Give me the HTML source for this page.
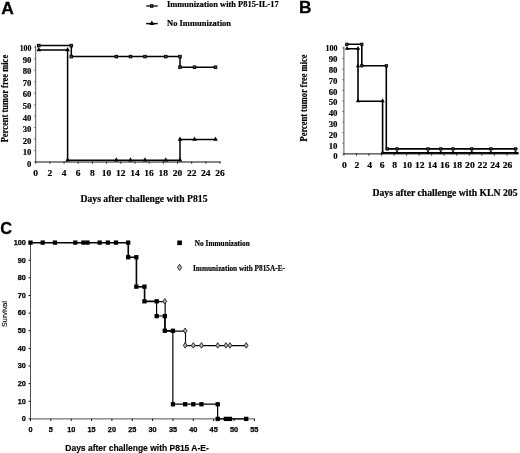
<!DOCTYPE html>
<html><head><meta charset="utf-8"><title>Figure</title>
<style>html,body{margin:0;padding:0;background:#fff;}svg{display:block;will-change:transform;filter:blur(0.4px);font-family:"Liberation Serif",serif;}</style>
</head><body>
<svg width="520" height="453" viewBox="0 0 520 453">
<rect width="520" height="453" fill="#fff"/>
<text x="1.15" y="13.90" font-size="17.4" font-family="Liberation Sans, sans-serif" font-weight="bold" text-anchor="start" stroke="#000" stroke-width="0.3">A</text>
<text x="298.90" y="12.60" font-size="17.3" font-family="Liberation Sans, sans-serif" font-weight="bold" text-anchor="start" stroke="#000" stroke-width="0.3">B</text>
<text x="0.30" y="234.40" font-size="17.3" font-family="Liberation Sans, sans-serif" font-weight="bold" text-anchor="start" textLength="11.8" lengthAdjust="spacingAndGlyphs" stroke="#000" stroke-width="0.3">C</text>
<line x1="35.70" y1="45.40" x2="35.70" y2="162.00" stroke="#444" stroke-width="0.9"/>
<line x1="35.70" y1="162.00" x2="220.34" y2="162.00" stroke="#111" stroke-width="1.0"/>
<line x1="34.10" y1="162.00" x2="35.70" y2="162.00" stroke="#444" stroke-width="0.7"/>
<text x="31.40" y="167.00" font-size="8.6" font-family="Liberation Serif, serif" font-weight="bold" stroke="#000" stroke-width="0.18" text-anchor="end" textLength="4.3" lengthAdjust="spacingAndGlyphs" >0</text>
<line x1="34.10" y1="150.54" x2="35.70" y2="150.54" stroke="#444" stroke-width="0.7"/>
<text x="31.40" y="155.40" font-size="8.6" font-family="Liberation Serif, serif" font-weight="bold" stroke="#000" stroke-width="0.18" text-anchor="end" textLength="8.7" lengthAdjust="spacingAndGlyphs" >10</text>
<line x1="34.10" y1="139.08" x2="35.70" y2="139.08" stroke="#444" stroke-width="0.7"/>
<text x="31.40" y="143.80" font-size="8.6" font-family="Liberation Serif, serif" font-weight="bold" stroke="#000" stroke-width="0.18" text-anchor="end" textLength="8.7" lengthAdjust="spacingAndGlyphs" >20</text>
<line x1="34.10" y1="127.62" x2="35.70" y2="127.62" stroke="#444" stroke-width="0.7"/>
<text x="31.40" y="132.20" font-size="8.6" font-family="Liberation Serif, serif" font-weight="bold" stroke="#000" stroke-width="0.18" text-anchor="end" textLength="8.7" lengthAdjust="spacingAndGlyphs" >30</text>
<line x1="34.10" y1="116.16" x2="35.70" y2="116.16" stroke="#444" stroke-width="0.7"/>
<text x="31.40" y="120.60" font-size="8.6" font-family="Liberation Serif, serif" font-weight="bold" stroke="#000" stroke-width="0.18" text-anchor="end" textLength="8.7" lengthAdjust="spacingAndGlyphs" >40</text>
<line x1="34.10" y1="104.70" x2="35.70" y2="104.70" stroke="#444" stroke-width="0.7"/>
<text x="31.40" y="109.00" font-size="8.6" font-family="Liberation Serif, serif" font-weight="bold" stroke="#000" stroke-width="0.18" text-anchor="end" textLength="8.7" lengthAdjust="spacingAndGlyphs" >50</text>
<line x1="34.10" y1="93.24" x2="35.70" y2="93.24" stroke="#444" stroke-width="0.7"/>
<text x="31.40" y="97.40" font-size="8.6" font-family="Liberation Serif, serif" font-weight="bold" stroke="#000" stroke-width="0.18" text-anchor="end" textLength="8.7" lengthAdjust="spacingAndGlyphs" >60</text>
<line x1="34.10" y1="81.78" x2="35.70" y2="81.78" stroke="#444" stroke-width="0.7"/>
<text x="31.40" y="85.80" font-size="8.6" font-family="Liberation Serif, serif" font-weight="bold" stroke="#000" stroke-width="0.18" text-anchor="end" textLength="8.7" lengthAdjust="spacingAndGlyphs" >70</text>
<line x1="34.10" y1="70.32" x2="35.70" y2="70.32" stroke="#444" stroke-width="0.7"/>
<text x="31.40" y="74.20" font-size="8.6" font-family="Liberation Serif, serif" font-weight="bold" stroke="#000" stroke-width="0.18" text-anchor="end" textLength="8.7" lengthAdjust="spacingAndGlyphs" >80</text>
<line x1="34.10" y1="58.86" x2="35.70" y2="58.86" stroke="#444" stroke-width="0.7"/>
<text x="31.40" y="62.60" font-size="8.6" font-family="Liberation Serif, serif" font-weight="bold" stroke="#000" stroke-width="0.18" text-anchor="end" textLength="8.7" lengthAdjust="spacingAndGlyphs" >90</text>
<line x1="34.10" y1="47.40" x2="35.70" y2="47.40" stroke="#444" stroke-width="0.7"/>
<text x="31.40" y="51.00" font-size="8.6" font-family="Liberation Serif, serif" font-weight="bold" stroke="#000" stroke-width="0.18" text-anchor="end" textLength="11.7" lengthAdjust="spacingAndGlyphs" >100</text>
<line x1="35.70" y1="161.40" x2="35.70" y2="163.80" stroke="#222" stroke-width="0.9"/>
<text x="35.70" y="176.00" font-size="8.8" font-family="Liberation Serif, serif" font-weight="bold" stroke="#000" stroke-width="0.18" text-anchor="middle" textLength="4.75" lengthAdjust="spacingAndGlyphs" >0</text>
<line x1="49.88" y1="161.40" x2="49.88" y2="163.80" stroke="#222" stroke-width="0.9"/>
<text x="49.88" y="176.00" font-size="8.8" font-family="Liberation Serif, serif" font-weight="bold" stroke="#000" stroke-width="0.18" text-anchor="middle" textLength="4.75" lengthAdjust="spacingAndGlyphs" >2</text>
<line x1="64.06" y1="161.40" x2="64.06" y2="163.80" stroke="#222" stroke-width="0.9"/>
<text x="64.06" y="176.00" font-size="8.8" font-family="Liberation Serif, serif" font-weight="bold" stroke="#000" stroke-width="0.18" text-anchor="middle" textLength="4.75" lengthAdjust="spacingAndGlyphs" >4</text>
<line x1="78.24" y1="161.40" x2="78.24" y2="163.80" stroke="#222" stroke-width="0.9"/>
<text x="78.24" y="176.00" font-size="8.8" font-family="Liberation Serif, serif" font-weight="bold" stroke="#000" stroke-width="0.18" text-anchor="middle" textLength="4.75" lengthAdjust="spacingAndGlyphs" >6</text>
<line x1="92.42" y1="161.40" x2="92.42" y2="163.80" stroke="#222" stroke-width="0.9"/>
<text x="92.42" y="176.00" font-size="8.8" font-family="Liberation Serif, serif" font-weight="bold" stroke="#000" stroke-width="0.18" text-anchor="middle" textLength="4.75" lengthAdjust="spacingAndGlyphs" >8</text>
<line x1="106.60" y1="161.40" x2="106.60" y2="163.80" stroke="#222" stroke-width="0.9"/>
<text x="106.60" y="176.00" font-size="8.8" font-family="Liberation Serif, serif" font-weight="bold" stroke="#000" stroke-width="0.18" text-anchor="middle" textLength="9.5" lengthAdjust="spacingAndGlyphs" >10</text>
<line x1="120.78" y1="161.40" x2="120.78" y2="163.80" stroke="#222" stroke-width="0.9"/>
<text x="120.78" y="176.00" font-size="8.8" font-family="Liberation Serif, serif" font-weight="bold" stroke="#000" stroke-width="0.18" text-anchor="middle" textLength="9.5" lengthAdjust="spacingAndGlyphs" >12</text>
<line x1="134.96" y1="161.40" x2="134.96" y2="163.80" stroke="#222" stroke-width="0.9"/>
<text x="134.96" y="176.00" font-size="8.8" font-family="Liberation Serif, serif" font-weight="bold" stroke="#000" stroke-width="0.18" text-anchor="middle" textLength="9.5" lengthAdjust="spacingAndGlyphs" >14</text>
<line x1="149.14" y1="161.40" x2="149.14" y2="163.80" stroke="#222" stroke-width="0.9"/>
<text x="149.14" y="176.00" font-size="8.8" font-family="Liberation Serif, serif" font-weight="bold" stroke="#000" stroke-width="0.18" text-anchor="middle" textLength="9.5" lengthAdjust="spacingAndGlyphs" >16</text>
<line x1="163.32" y1="161.40" x2="163.32" y2="163.80" stroke="#222" stroke-width="0.9"/>
<text x="163.32" y="176.00" font-size="8.8" font-family="Liberation Serif, serif" font-weight="bold" stroke="#000" stroke-width="0.18" text-anchor="middle" textLength="9.5" lengthAdjust="spacingAndGlyphs" >18</text>
<line x1="177.50" y1="161.40" x2="177.50" y2="163.80" stroke="#222" stroke-width="0.9"/>
<text x="177.50" y="176.00" font-size="8.8" font-family="Liberation Serif, serif" font-weight="bold" stroke="#000" stroke-width="0.18" text-anchor="middle" textLength="9.5" lengthAdjust="spacingAndGlyphs" >20</text>
<line x1="191.68" y1="161.40" x2="191.68" y2="163.80" stroke="#222" stroke-width="0.9"/>
<text x="191.68" y="176.00" font-size="8.8" font-family="Liberation Serif, serif" font-weight="bold" stroke="#000" stroke-width="0.18" text-anchor="middle" textLength="9.5" lengthAdjust="spacingAndGlyphs" >22</text>
<line x1="205.86" y1="161.40" x2="205.86" y2="163.80" stroke="#222" stroke-width="0.9"/>
<text x="205.86" y="176.00" font-size="8.8" font-family="Liberation Serif, serif" font-weight="bold" stroke="#000" stroke-width="0.18" text-anchor="middle" textLength="9.5" lengthAdjust="spacingAndGlyphs" >24</text>
<line x1="220.04" y1="161.40" x2="220.04" y2="163.80" stroke="#222" stroke-width="0.9"/>
<text x="220.04" y="176.00" font-size="8.8" font-family="Liberation Serif, serif" font-weight="bold" stroke="#000" stroke-width="0.18" text-anchor="middle" textLength="9.5" lengthAdjust="spacingAndGlyphs" >26</text>
<text x="80.50" y="201.50" font-size="9.4" font-family="Liberation Serif, serif" font-weight="bold" stroke="#000" stroke-width="0.18" text-anchor="start" textLength="127" lengthAdjust="spacingAndGlyphs" >Days after challenge with P815</text>
<text transform="translate(8.10,98.60) rotate(-90)" font-size="9.3" font-family="Liberation Serif, serif" font-weight="bold" stroke="#000" stroke-width="0.18" text-anchor="middle" textLength="87.5" lengthAdjust="spacingAndGlyphs">Percent tumor free mice</text>
<polyline fill="none" stroke="#000" stroke-width="1.5" stroke-linejoin="miter" points="38.80,45.60 71.30,45.60 71.30,56.60 180.00,56.60 180.00,67.20 215.50,67.20"/>
<rect x="37.50" y="44.30" width="2.6" height="2.6" fill="#4a4a4a" stroke="#000" stroke-width="0.9"/>
<rect x="70.00" y="44.30" width="2.6" height="2.6" fill="#4a4a4a" stroke="#000" stroke-width="0.9"/>
<rect x="70.00" y="55.30" width="2.6" height="2.6" fill="#4a4a4a" stroke="#000" stroke-width="0.9"/>
<rect x="115.00" y="55.30" width="2.6" height="2.6" fill="#4a4a4a" stroke="#000" stroke-width="0.9"/>
<rect x="129.20" y="55.30" width="2.6" height="2.6" fill="#4a4a4a" stroke="#000" stroke-width="0.9"/>
<rect x="143.70" y="55.30" width="2.6" height="2.6" fill="#4a4a4a" stroke="#000" stroke-width="0.9"/>
<rect x="164.50" y="55.30" width="2.6" height="2.6" fill="#4a4a4a" stroke="#000" stroke-width="0.9"/>
<rect x="178.70" y="55.30" width="2.6" height="2.6" fill="#4a4a4a" stroke="#000" stroke-width="0.9"/>
<rect x="178.70" y="65.90" width="2.6" height="2.6" fill="#4a4a4a" stroke="#000" stroke-width="0.9"/>
<rect x="193.20" y="65.90" width="2.6" height="2.6" fill="#4a4a4a" stroke="#000" stroke-width="0.9"/>
<rect x="214.20" y="65.90" width="2.6" height="2.6" fill="#4a4a4a" stroke="#000" stroke-width="0.9"/>
<polyline fill="none" stroke="#000" stroke-width="1.5" stroke-linejoin="miter" points="38.80,50.00 67.60,50.00 67.60,160.20 180.00,160.20 180.00,139.40 215.50,139.40"/>
<polygon points="38.80,47.10 36.50,51.24 41.10,51.24" fill="#000"/>
<polygon points="67.60,47.10 65.30,51.24 69.90,51.24" fill="#000"/>
<polygon points="67.60,157.30 65.30,161.44 69.90,161.44" fill="#000"/>
<polygon points="116.30,157.30 114.00,161.44 118.60,161.44" fill="#000"/>
<polygon points="130.50,157.30 128.20,161.44 132.80,161.44" fill="#000"/>
<polygon points="145.00,157.30 142.70,161.44 147.30,161.44" fill="#000"/>
<polygon points="165.80,157.30 163.50,161.44 168.10,161.44" fill="#000"/>
<polygon points="180.00,157.30 177.70,161.44 182.30,161.44" fill="#000"/>
<polygon points="180.00,136.50 177.70,140.64 182.30,140.64" fill="#000"/>
<polygon points="194.50,136.50 192.20,140.64 196.80,140.64" fill="#000"/>
<polygon points="215.50,136.50 213.20,140.64 217.80,140.64" fill="#000"/>
<line x1="146.20" y1="6.00" x2="157.70" y2="6.00" stroke="#000" stroke-width="1.3"/>
<rect x="150.40" y="4.70" width="2.6" height="2.6" fill="#4a4a4a" stroke="#000" stroke-width="0.9"/>
<text x="167.00" y="6.90" font-size="7.9" font-family="Liberation Serif, serif" font-weight="bold" stroke="#000" stroke-width="0.18" text-anchor="start" textLength="111.8" lengthAdjust="spacingAndGlyphs" >Immunization with P815-IL-17</text>
<line x1="146.20" y1="23.60" x2="157.70" y2="23.60" stroke="#000" stroke-width="1.4"/>
<polygon points="151.90,20.40 149.30,25.08 154.50,25.08" fill="#000"/>
<text x="167.00" y="25.70" font-size="7.9" font-family="Liberation Serif, serif" font-weight="bold" stroke="#000" stroke-width="0.18" text-anchor="start" textLength="64" lengthAdjust="spacingAndGlyphs" >No Immunization</text>
<line x1="343.90" y1="46.50" x2="343.90" y2="153.90" stroke="#444" stroke-width="0.9"/>
<line x1="343.90" y1="153.90" x2="518.80" y2="153.90" stroke="#111" stroke-width="1.0"/>
<line x1="342.30" y1="153.90" x2="343.90" y2="153.90" stroke="#444" stroke-width="0.7"/>
<text x="337.50" y="159.45" font-size="8.6" font-family="Liberation Serif, serif" font-weight="bold" stroke="#000" stroke-width="0.18" text-anchor="end" textLength="4.3" lengthAdjust="spacingAndGlyphs" >0</text>
<line x1="342.30" y1="143.31" x2="343.90" y2="143.31" stroke="#444" stroke-width="0.7"/>
<text x="337.50" y="148.65" font-size="8.6" font-family="Liberation Serif, serif" font-weight="bold" stroke="#000" stroke-width="0.18" text-anchor="end" textLength="8.8" lengthAdjust="spacingAndGlyphs" >10</text>
<line x1="342.30" y1="132.72" x2="343.90" y2="132.72" stroke="#444" stroke-width="0.7"/>
<text x="337.50" y="137.85" font-size="8.6" font-family="Liberation Serif, serif" font-weight="bold" stroke="#000" stroke-width="0.18" text-anchor="end" textLength="8.8" lengthAdjust="spacingAndGlyphs" >20</text>
<line x1="342.30" y1="122.13" x2="343.90" y2="122.13" stroke="#444" stroke-width="0.7"/>
<text x="337.50" y="127.05" font-size="8.6" font-family="Liberation Serif, serif" font-weight="bold" stroke="#000" stroke-width="0.18" text-anchor="end" textLength="8.8" lengthAdjust="spacingAndGlyphs" >30</text>
<line x1="342.30" y1="111.54" x2="343.90" y2="111.54" stroke="#444" stroke-width="0.7"/>
<text x="337.50" y="116.25" font-size="8.6" font-family="Liberation Serif, serif" font-weight="bold" stroke="#000" stroke-width="0.18" text-anchor="end" textLength="8.8" lengthAdjust="spacingAndGlyphs" >40</text>
<line x1="342.30" y1="100.95" x2="343.90" y2="100.95" stroke="#444" stroke-width="0.7"/>
<text x="337.50" y="105.45" font-size="8.6" font-family="Liberation Serif, serif" font-weight="bold" stroke="#000" stroke-width="0.18" text-anchor="end" textLength="8.8" lengthAdjust="spacingAndGlyphs" >50</text>
<line x1="342.30" y1="90.36" x2="343.90" y2="90.36" stroke="#444" stroke-width="0.7"/>
<text x="337.50" y="94.65" font-size="8.6" font-family="Liberation Serif, serif" font-weight="bold" stroke="#000" stroke-width="0.18" text-anchor="end" textLength="8.8" lengthAdjust="spacingAndGlyphs" >60</text>
<line x1="342.30" y1="79.77" x2="343.90" y2="79.77" stroke="#444" stroke-width="0.7"/>
<text x="337.50" y="83.85" font-size="8.6" font-family="Liberation Serif, serif" font-weight="bold" stroke="#000" stroke-width="0.18" text-anchor="end" textLength="8.8" lengthAdjust="spacingAndGlyphs" >70</text>
<line x1="342.30" y1="69.18" x2="343.90" y2="69.18" stroke="#444" stroke-width="0.7"/>
<text x="337.50" y="73.05" font-size="8.6" font-family="Liberation Serif, serif" font-weight="bold" stroke="#000" stroke-width="0.18" text-anchor="end" textLength="8.8" lengthAdjust="spacingAndGlyphs" >80</text>
<line x1="342.30" y1="58.59" x2="343.90" y2="58.59" stroke="#444" stroke-width="0.7"/>
<text x="337.50" y="62.25" font-size="8.6" font-family="Liberation Serif, serif" font-weight="bold" stroke="#000" stroke-width="0.18" text-anchor="end" textLength="8.8" lengthAdjust="spacingAndGlyphs" >90</text>
<line x1="342.30" y1="48.00" x2="343.90" y2="48.00" stroke="#444" stroke-width="0.7"/>
<text x="337.50" y="51.45" font-size="8.6" font-family="Liberation Serif, serif" font-weight="bold" stroke="#000" stroke-width="0.18" text-anchor="end" textLength="11.9" lengthAdjust="spacingAndGlyphs" >100</text>
<line x1="343.90" y1="153.40" x2="343.90" y2="155.70" stroke="#222" stroke-width="0.9"/>
<text x="344.50" y="167.50" font-size="9.0" font-family="Liberation Serif, serif" font-weight="bold" stroke="#000" stroke-width="0.18" text-anchor="middle" textLength="4.8" lengthAdjust="spacingAndGlyphs" >0</text>
<line x1="356.44" y1="153.40" x2="356.44" y2="155.70" stroke="#222" stroke-width="0.9"/>
<text x="357.04" y="167.50" font-size="9.0" font-family="Liberation Serif, serif" font-weight="bold" stroke="#000" stroke-width="0.18" text-anchor="middle" textLength="4.8" lengthAdjust="spacingAndGlyphs" >2</text>
<line x1="368.98" y1="153.40" x2="368.98" y2="155.70" stroke="#222" stroke-width="0.9"/>
<text x="369.58" y="167.50" font-size="9.0" font-family="Liberation Serif, serif" font-weight="bold" stroke="#000" stroke-width="0.18" text-anchor="middle" textLength="4.8" lengthAdjust="spacingAndGlyphs" >4</text>
<line x1="381.52" y1="153.40" x2="381.52" y2="155.70" stroke="#222" stroke-width="0.9"/>
<text x="382.12" y="167.50" font-size="9.0" font-family="Liberation Serif, serif" font-weight="bold" stroke="#000" stroke-width="0.18" text-anchor="middle" textLength="4.8" lengthAdjust="spacingAndGlyphs" >6</text>
<line x1="394.06" y1="153.40" x2="394.06" y2="155.70" stroke="#222" stroke-width="0.9"/>
<text x="394.66" y="167.50" font-size="9.0" font-family="Liberation Serif, serif" font-weight="bold" stroke="#000" stroke-width="0.18" text-anchor="middle" textLength="4.8" lengthAdjust="spacingAndGlyphs" >8</text>
<line x1="406.60" y1="153.40" x2="406.60" y2="155.70" stroke="#222" stroke-width="0.9"/>
<text x="407.20" y="167.50" font-size="9.0" font-family="Liberation Serif, serif" font-weight="bold" stroke="#000" stroke-width="0.18" text-anchor="middle" textLength="9.6" lengthAdjust="spacingAndGlyphs" >10</text>
<line x1="419.14" y1="153.40" x2="419.14" y2="155.70" stroke="#222" stroke-width="0.9"/>
<text x="419.74" y="167.50" font-size="9.0" font-family="Liberation Serif, serif" font-weight="bold" stroke="#000" stroke-width="0.18" text-anchor="middle" textLength="9.6" lengthAdjust="spacingAndGlyphs" >12</text>
<line x1="431.68" y1="153.40" x2="431.68" y2="155.70" stroke="#222" stroke-width="0.9"/>
<text x="432.28" y="167.50" font-size="9.0" font-family="Liberation Serif, serif" font-weight="bold" stroke="#000" stroke-width="0.18" text-anchor="middle" textLength="9.6" lengthAdjust="spacingAndGlyphs" >14</text>
<line x1="444.22" y1="153.40" x2="444.22" y2="155.70" stroke="#222" stroke-width="0.9"/>
<text x="444.82" y="167.50" font-size="9.0" font-family="Liberation Serif, serif" font-weight="bold" stroke="#000" stroke-width="0.18" text-anchor="middle" textLength="9.6" lengthAdjust="spacingAndGlyphs" >16</text>
<line x1="456.76" y1="153.40" x2="456.76" y2="155.70" stroke="#222" stroke-width="0.9"/>
<text x="457.36" y="167.50" font-size="9.0" font-family="Liberation Serif, serif" font-weight="bold" stroke="#000" stroke-width="0.18" text-anchor="middle" textLength="9.6" lengthAdjust="spacingAndGlyphs" >18</text>
<line x1="469.30" y1="153.40" x2="469.30" y2="155.70" stroke="#222" stroke-width="0.9"/>
<text x="469.90" y="167.50" font-size="9.0" font-family="Liberation Serif, serif" font-weight="bold" stroke="#000" stroke-width="0.18" text-anchor="middle" textLength="9.6" lengthAdjust="spacingAndGlyphs" >20</text>
<line x1="481.84" y1="153.40" x2="481.84" y2="155.70" stroke="#222" stroke-width="0.9"/>
<text x="482.44" y="167.50" font-size="9.0" font-family="Liberation Serif, serif" font-weight="bold" stroke="#000" stroke-width="0.18" text-anchor="middle" textLength="9.6" lengthAdjust="spacingAndGlyphs" >22</text>
<line x1="494.38" y1="153.40" x2="494.38" y2="155.70" stroke="#222" stroke-width="0.9"/>
<text x="494.98" y="167.50" font-size="9.0" font-family="Liberation Serif, serif" font-weight="bold" stroke="#000" stroke-width="0.18" text-anchor="middle" textLength="9.6" lengthAdjust="spacingAndGlyphs" >24</text>
<line x1="506.92" y1="153.40" x2="506.92" y2="155.70" stroke="#222" stroke-width="0.9"/>
<text x="507.52" y="167.50" font-size="9.0" font-family="Liberation Serif, serif" font-weight="bold" stroke="#000" stroke-width="0.18" text-anchor="middle" textLength="9.6" lengthAdjust="spacingAndGlyphs" >26</text>
<text x="372.50" y="196.00" font-size="9.3" font-family="Liberation Serif, serif" font-weight="bold" stroke="#000" stroke-width="0.18" text-anchor="start" textLength="145" lengthAdjust="spacingAndGlyphs" >Days after challenge with KLN 205</text>
<text transform="translate(306.60,98.00) rotate(-90)" font-size="9.4" font-family="Liberation Serif, serif" font-weight="bold" stroke="#000" stroke-width="0.18" text-anchor="middle" textLength="87" lengthAdjust="spacingAndGlyphs">Percent tumor free mice</text>
<polyline fill="none" stroke="#000" stroke-width="1.6" stroke-linejoin="miter" points="346.60,44.30 361.80,44.30 361.80,65.80 386.30,65.80 386.30,148.90 517.50,148.90"/>
<rect x="345.65" y="43.15" width="2.3" height="2.3" fill="#4a4a4a" stroke="#000" stroke-width="0.9"/>
<rect x="360.65" y="43.15" width="2.3" height="2.3" fill="#4a4a4a" stroke="#000" stroke-width="0.9"/>
<rect x="360.65" y="64.65" width="2.3" height="2.3" fill="#4a4a4a" stroke="#000" stroke-width="0.9"/>
<rect x="385.15" y="64.65" width="2.3" height="2.3" fill="#4a4a4a" stroke="#000" stroke-width="0.9"/>
<rect x="386.15" y="147.75" width="2.3" height="2.3" fill="#4a4a4a" stroke="#000" stroke-width="0.9"/>
<rect x="395.85" y="147.75" width="2.3" height="2.3" fill="#4a4a4a" stroke="#000" stroke-width="0.9"/>
<rect x="426.85" y="147.75" width="2.3" height="2.3" fill="#4a4a4a" stroke="#000" stroke-width="0.9"/>
<rect x="439.65" y="147.75" width="2.3" height="2.3" fill="#4a4a4a" stroke="#000" stroke-width="0.9"/>
<rect x="451.85" y="147.75" width="2.3" height="2.3" fill="#4a4a4a" stroke="#000" stroke-width="0.9"/>
<rect x="470.65" y="147.75" width="2.3" height="2.3" fill="#4a4a4a" stroke="#000" stroke-width="0.9"/>
<rect x="489.65" y="147.75" width="2.3" height="2.3" fill="#4a4a4a" stroke="#000" stroke-width="0.9"/>
<rect x="514.35" y="147.75" width="2.3" height="2.3" fill="#4a4a4a" stroke="#000" stroke-width="0.9"/>
<polyline fill="none" stroke="#000" stroke-width="1.6" stroke-linejoin="miter" points="347.00,48.80 358.00,48.80 358.00,101.30 382.60,101.30 382.60,152.90 518.50,152.90"/>
<polygon points="347.00,45.90 344.80,49.86 349.20,49.86" fill="#000"/>
<polygon points="358.00,45.90 355.80,49.86 360.20,49.86" fill="#000"/>
<polygon points="358.00,63.40 355.80,67.36 360.20,67.36" fill="#000"/>
<polygon points="358.00,98.40 355.80,102.36 360.20,102.36" fill="#000"/>
<polygon points="382.60,98.40 380.40,102.36 384.80,102.36" fill="#000"/>
<polygon points="382.60,150.00 380.40,153.96 384.80,153.96" fill="#000"/>
<polygon points="397.00,150.00 394.80,153.96 399.20,153.96" fill="#000"/>
<polygon points="428.00,150.00 425.80,153.96 430.20,153.96" fill="#000"/>
<polygon points="440.80,150.00 438.60,153.96 443.00,153.96" fill="#000"/>
<polygon points="453.00,150.00 450.80,153.96 455.20,153.96" fill="#000"/>
<polygon points="471.80,150.00 469.60,153.96 474.00,153.96" fill="#000"/>
<polygon points="490.80,150.00 488.60,153.96 493.00,153.96" fill="#000"/>
<polygon points="515.50,150.00 513.30,153.96 517.70,153.96" fill="#000"/>
<line x1="30.50" y1="241.60" x2="30.50" y2="418.90" stroke="#222" stroke-width="0.8"/>
<line x1="30.50" y1="418.90" x2="254.85" y2="418.90" stroke="#222" stroke-width="0.8"/>
<line x1="28.50" y1="418.90" x2="30.50" y2="418.90" stroke="#000" stroke-width="0.9"/>
<text x="25.90" y="421.20" font-size="7.3" font-family="Liberation Sans, sans-serif" font-weight="bold" text-anchor="end" stroke="#000" stroke-width="0.25">0</text>
<line x1="28.50" y1="401.27" x2="30.50" y2="401.27" stroke="#000" stroke-width="0.9"/>
<text x="25.90" y="403.57" font-size="7.3" font-family="Liberation Sans, sans-serif" font-weight="bold" text-anchor="end" stroke="#000" stroke-width="0.25">10</text>
<line x1="28.50" y1="383.64" x2="30.50" y2="383.64" stroke="#000" stroke-width="0.9"/>
<text x="25.90" y="385.94" font-size="7.3" font-family="Liberation Sans, sans-serif" font-weight="bold" text-anchor="end" stroke="#000" stroke-width="0.25">20</text>
<line x1="28.50" y1="366.01" x2="30.50" y2="366.01" stroke="#000" stroke-width="0.9"/>
<text x="25.90" y="368.31" font-size="7.3" font-family="Liberation Sans, sans-serif" font-weight="bold" text-anchor="end" stroke="#000" stroke-width="0.25">30</text>
<line x1="28.50" y1="348.38" x2="30.50" y2="348.38" stroke="#000" stroke-width="0.9"/>
<text x="25.90" y="350.68" font-size="7.3" font-family="Liberation Sans, sans-serif" font-weight="bold" text-anchor="end" stroke="#000" stroke-width="0.25">40</text>
<line x1="28.50" y1="330.75" x2="30.50" y2="330.75" stroke="#000" stroke-width="0.9"/>
<text x="25.90" y="333.05" font-size="7.3" font-family="Liberation Sans, sans-serif" font-weight="bold" text-anchor="end" stroke="#000" stroke-width="0.25">50</text>
<line x1="28.50" y1="313.12" x2="30.50" y2="313.12" stroke="#000" stroke-width="0.9"/>
<text x="25.90" y="315.42" font-size="7.3" font-family="Liberation Sans, sans-serif" font-weight="bold" text-anchor="end" stroke="#000" stroke-width="0.25">60</text>
<line x1="28.50" y1="295.49" x2="30.50" y2="295.49" stroke="#000" stroke-width="0.9"/>
<text x="25.90" y="297.79" font-size="7.3" font-family="Liberation Sans, sans-serif" font-weight="bold" text-anchor="end" stroke="#000" stroke-width="0.25">70</text>
<line x1="28.50" y1="277.86" x2="30.50" y2="277.86" stroke="#000" stroke-width="0.9"/>
<text x="25.90" y="280.16" font-size="7.3" font-family="Liberation Sans, sans-serif" font-weight="bold" text-anchor="end" stroke="#000" stroke-width="0.25">80</text>
<line x1="28.50" y1="260.23" x2="30.50" y2="260.23" stroke="#000" stroke-width="0.9"/>
<text x="25.90" y="262.53" font-size="7.3" font-family="Liberation Sans, sans-serif" font-weight="bold" text-anchor="end" stroke="#000" stroke-width="0.25">90</text>
<line x1="28.50" y1="242.60" x2="30.50" y2="242.60" stroke="#000" stroke-width="0.9"/>
<text x="25.90" y="244.90" font-size="7.3" font-family="Liberation Sans, sans-serif" font-weight="bold" text-anchor="end" stroke="#000" stroke-width="0.25">100</text>
<line x1="30.50" y1="418.90" x2="30.50" y2="421.10" stroke="#000" stroke-width="0.9"/>
<text x="30.50" y="432.20" font-size="7.3" font-family="Liberation Sans, sans-serif" font-weight="bold" text-anchor="middle" stroke="#000" stroke-width="0.25">0</text>
<line x1="50.85" y1="418.90" x2="50.85" y2="421.10" stroke="#000" stroke-width="0.9"/>
<text x="50.85" y="432.20" font-size="7.3" font-family="Liberation Sans, sans-serif" font-weight="bold" text-anchor="middle" stroke="#000" stroke-width="0.25">5</text>
<line x1="71.20" y1="418.90" x2="71.20" y2="421.10" stroke="#000" stroke-width="0.9"/>
<text x="71.20" y="432.20" font-size="7.3" font-family="Liberation Sans, sans-serif" font-weight="bold" text-anchor="middle" stroke="#000" stroke-width="0.25">10</text>
<line x1="91.55" y1="418.90" x2="91.55" y2="421.10" stroke="#000" stroke-width="0.9"/>
<text x="91.55" y="432.20" font-size="7.3" font-family="Liberation Sans, sans-serif" font-weight="bold" text-anchor="middle" stroke="#000" stroke-width="0.25">15</text>
<line x1="111.90" y1="418.90" x2="111.90" y2="421.10" stroke="#000" stroke-width="0.9"/>
<text x="111.90" y="432.20" font-size="7.3" font-family="Liberation Sans, sans-serif" font-weight="bold" text-anchor="middle" stroke="#000" stroke-width="0.25">20</text>
<line x1="132.25" y1="418.90" x2="132.25" y2="421.10" stroke="#000" stroke-width="0.9"/>
<text x="132.25" y="432.20" font-size="7.3" font-family="Liberation Sans, sans-serif" font-weight="bold" text-anchor="middle" stroke="#000" stroke-width="0.25">25</text>
<line x1="152.60" y1="418.90" x2="152.60" y2="421.10" stroke="#000" stroke-width="0.9"/>
<text x="152.60" y="432.20" font-size="7.3" font-family="Liberation Sans, sans-serif" font-weight="bold" text-anchor="middle" stroke="#000" stroke-width="0.25">30</text>
<line x1="172.95" y1="418.90" x2="172.95" y2="421.10" stroke="#000" stroke-width="0.9"/>
<text x="172.95" y="432.20" font-size="7.3" font-family="Liberation Sans, sans-serif" font-weight="bold" text-anchor="middle" stroke="#000" stroke-width="0.25">35</text>
<line x1="193.30" y1="418.90" x2="193.30" y2="421.10" stroke="#000" stroke-width="0.9"/>
<text x="193.30" y="432.20" font-size="7.3" font-family="Liberation Sans, sans-serif" font-weight="bold" text-anchor="middle" stroke="#000" stroke-width="0.25">40</text>
<line x1="213.65" y1="418.90" x2="213.65" y2="421.10" stroke="#000" stroke-width="0.9"/>
<text x="213.65" y="432.20" font-size="7.3" font-family="Liberation Sans, sans-serif" font-weight="bold" text-anchor="middle" stroke="#000" stroke-width="0.25">45</text>
<line x1="234.00" y1="418.90" x2="234.00" y2="421.10" stroke="#000" stroke-width="0.9"/>
<text x="234.00" y="432.20" font-size="7.3" font-family="Liberation Sans, sans-serif" font-weight="bold" text-anchor="middle" stroke="#000" stroke-width="0.25">50</text>
<line x1="254.35" y1="418.90" x2="254.35" y2="421.10" stroke="#000" stroke-width="0.9"/>
<text x="254.35" y="432.20" font-size="7.3" font-family="Liberation Sans, sans-serif" font-weight="bold" text-anchor="middle" stroke="#000" stroke-width="0.25">55</text>
<text x="65.30" y="450.50" font-size="8.7" font-family="Liberation Sans, sans-serif" font-weight="bold" text-anchor="start" textLength="143.5" lengthAdjust="spacingAndGlyphs" stroke="#000" stroke-width="0.15">Days after challenge with P815 A-E-</text>
<text transform="translate(7.1,314) rotate(-90)" font-size="7.4" font-family="Liberation Sans, sans-serif" fill="#000" stroke="#000" stroke-width="0.12" text-anchor="middle" textLength="26" lengthAdjust="spacingAndGlyphs">Survival</text>
<polyline fill="none" stroke="#000" stroke-width="1.15" stroke-linejoin="miter" points="30.85,242.90 128.53,242.90 128.53,257.53 136.67,257.53 136.67,286.97 144.81,286.97 144.81,301.61 165.16,301.61 165.16,331.05 185.51,331.05 185.51,345.68 246.56,345.68"/>
<polyline fill="none" stroke="#000" stroke-width="1.2" stroke-linejoin="miter" points="30.40,242.50 128.08,242.50 128.08,257.13 136.22,257.13 136.22,286.57 144.36,286.57 144.36,301.21 156.57,301.21 156.57,316.02 164.71,316.02 164.71,330.65 172.85,330.65 172.85,404.17 217.62,404.17 217.62,418.80 246.11,418.80"/>
<polygon points="164.81,298.51 166.71,301.31 164.81,304.11 162.91,301.31" fill="#b0b0b0" stroke="#111" stroke-width="0.8"/>
<polygon points="185.16,327.95 187.06,330.75 185.16,333.55 183.26,330.75" fill="#b0b0b0" stroke="#111" stroke-width="0.8"/>
<polygon points="185.16,342.58 187.06,345.38 185.16,348.18 183.26,345.38" fill="#b0b0b0" stroke="#111" stroke-width="0.8"/>
<polygon points="193.30,342.58 195.20,345.38 193.30,348.18 191.40,345.38" fill="#b0b0b0" stroke="#111" stroke-width="0.8"/>
<polygon points="201.44,342.58 203.34,345.38 201.44,348.18 199.54,345.38" fill="#b0b0b0" stroke="#111" stroke-width="0.8"/>
<polygon points="217.72,342.58 219.62,345.38 217.72,348.18 215.82,345.38" fill="#b0b0b0" stroke="#111" stroke-width="0.8"/>
<polygon points="225.86,342.58 227.76,345.38 225.86,348.18 223.96,345.38" fill="#b0b0b0" stroke="#111" stroke-width="0.8"/>
<polygon points="229.93,342.58 231.83,345.38 229.93,348.18 228.03,345.38" fill="#b0b0b0" stroke="#111" stroke-width="0.8"/>
<polygon points="246.21,342.58 248.11,345.38 246.21,348.18 244.31,345.38" fill="#b0b0b0" stroke="#111" stroke-width="0.8"/>
<rect x="28.35" y="240.45" width="4.3" height="4.3" fill="#000"/>
<rect x="40.56" y="240.45" width="4.3" height="4.3" fill="#000"/>
<rect x="52.77" y="240.45" width="4.3" height="4.3" fill="#000"/>
<rect x="73.12" y="240.45" width="4.3" height="4.3" fill="#000"/>
<rect x="81.26" y="240.45" width="4.3" height="4.3" fill="#000"/>
<rect x="85.33" y="240.45" width="4.3" height="4.3" fill="#000"/>
<rect x="97.54" y="240.45" width="4.3" height="4.3" fill="#000"/>
<rect x="105.68" y="240.45" width="4.3" height="4.3" fill="#000"/>
<rect x="113.82" y="240.45" width="4.3" height="4.3" fill="#000"/>
<rect x="126.03" y="240.45" width="4.3" height="4.3" fill="#000"/>
<rect x="126.03" y="255.08" width="4.3" height="4.3" fill="#000"/>
<rect x="134.17" y="255.08" width="4.3" height="4.3" fill="#000"/>
<rect x="134.17" y="284.52" width="4.3" height="4.3" fill="#000"/>
<rect x="142.31" y="284.52" width="4.3" height="4.3" fill="#000"/>
<rect x="142.31" y="299.16" width="4.3" height="4.3" fill="#000"/>
<rect x="154.52" y="299.16" width="4.3" height="4.3" fill="#000"/>
<rect x="154.52" y="313.97" width="4.3" height="4.3" fill="#000"/>
<rect x="162.66" y="313.97" width="4.3" height="4.3" fill="#000"/>
<rect x="162.66" y="328.60" width="4.3" height="4.3" fill="#000"/>
<rect x="170.80" y="328.60" width="4.3" height="4.3" fill="#000"/>
<rect x="170.80" y="402.12" width="4.3" height="4.3" fill="#000"/>
<rect x="183.01" y="402.12" width="4.3" height="4.3" fill="#000"/>
<rect x="191.15" y="402.12" width="4.3" height="4.3" fill="#000"/>
<rect x="199.29" y="402.12" width="4.3" height="4.3" fill="#000"/>
<rect x="215.57" y="402.12" width="4.3" height="4.3" fill="#000"/>
<rect x="215.57" y="416.75" width="4.3" height="4.3" fill="#000"/>
<rect x="223.71" y="416.75" width="4.3" height="4.3" fill="#000"/>
<rect x="227.78" y="416.75" width="4.3" height="4.3" fill="#000"/>
<rect x="244.06" y="416.75" width="4.3" height="4.3" fill="#000"/>
<rect x="177.30" y="240.50" width="4.6" height="4.6" fill="#000"/>
<text x="194.80" y="246.30" font-size="7.8" font-family="Liberation Serif, serif" font-weight="bold" stroke="#000" stroke-width="0.18" text-anchor="start" textLength="55" lengthAdjust="spacingAndGlyphs" >No Immunization</text>
<polygon points="179.60,264.30 181.80,267.40 179.60,270.50 177.40,267.40" fill="#b0b0b0" stroke="#111" stroke-width="0.8"/>
<text x="193.00" y="270.80" font-size="7.8" font-family="Liberation Serif, serif" font-weight="bold" stroke="#000" stroke-width="0.18" text-anchor="start" textLength="92" lengthAdjust="spacingAndGlyphs" >Immunization with P815A-E-</text>
</svg>
</body></html>
